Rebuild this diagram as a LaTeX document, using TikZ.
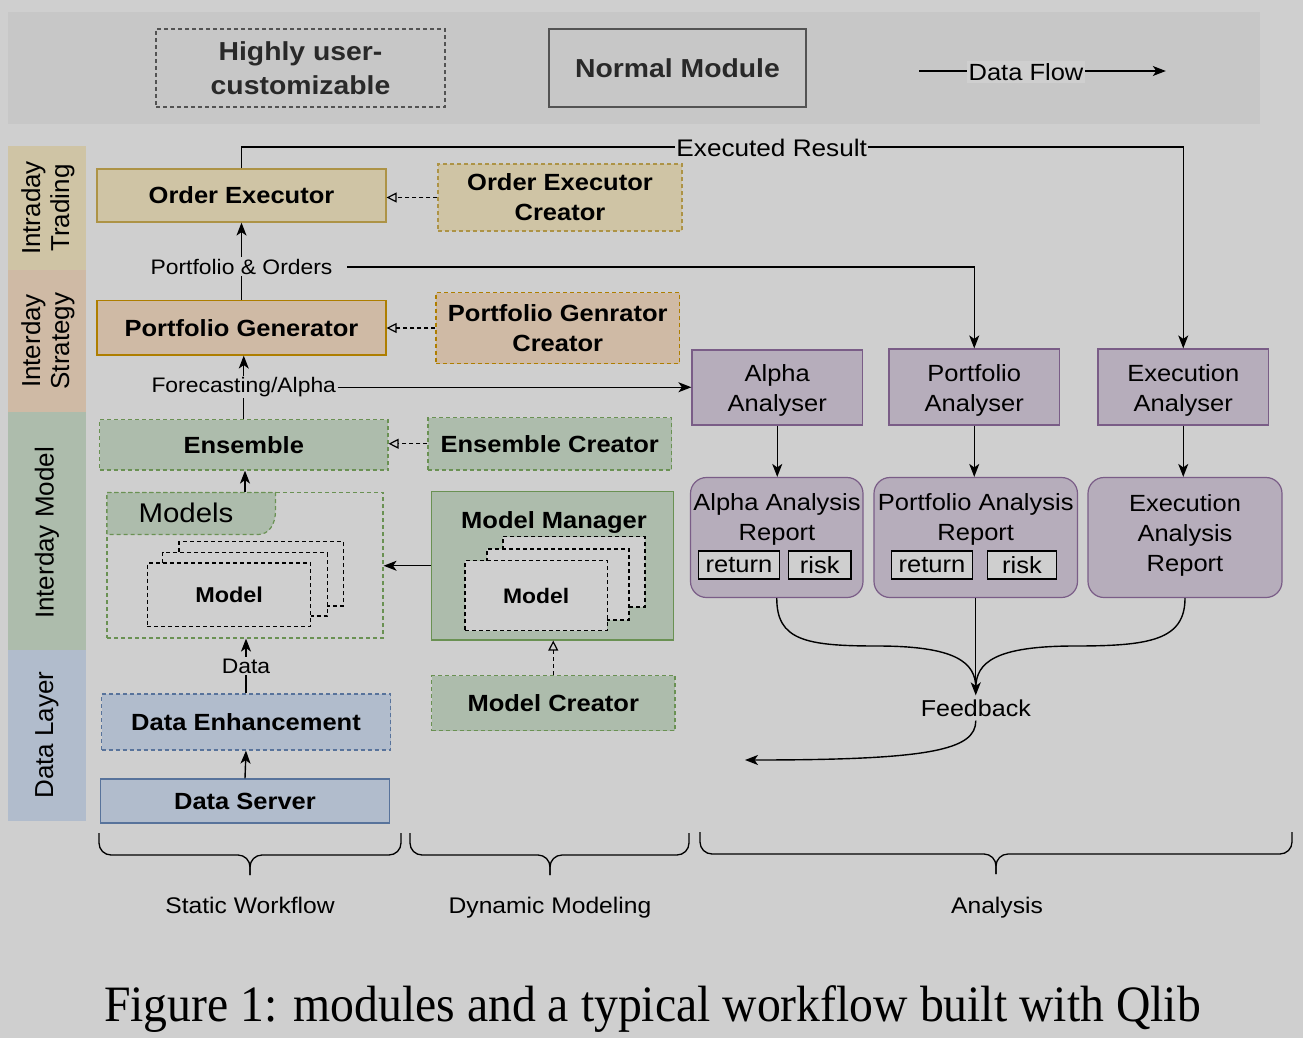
\documentclass[tikz,border=0pt]{standalone}
\usepackage{fontspec}
\setmainfont{Liberation Sans}[FakeStretch=1.09]
\newfontfamily\rotfont{Liberation Sans}
\newfontfamily\capfont{Liberation Serif}[FakeStretch=0.935]
\usetikzlibrary{arrows.meta}

\definecolor{bg}{HTML}{CFCFCF}
\definecolor{legbg}{HTML}{C7C7C7}
\definecolor{legline}{HTML}{535353}
\definecolor{legtext}{HTML}{292929}
\definecolor{tanF}{HTML}{CFC4A5}
\definecolor{tanD}{HTML}{AD9346}
\definecolor{orgF}{HTML}{CFBAA5}
\definecolor{orgD}{HTML}{AE7E00}
\definecolor{grnF}{HTML}{ADBCAC}
\definecolor{grnD}{HTML}{6A9153}
\definecolor{bluF}{HTML}{B1BCCC}
\definecolor{bluD}{HTML}{58739B}
\definecolor{purF}{HTML}{B6ADBB}
\definecolor{purD}{HTML}{7A5D87}

\newcommand\fbold{\fontsize{23.4}{30}\selectfont\bfseries}
\newcommand\fnorm{\fontsize{23.4}{30}\selectfont}
\newcommand\fsmall{\fontsize{21}{25}\selectfont}
\newcommand\flegend{\fontsize{26}{34}\selectfont\bfseries}
\newcommand\fband{\rotfont\fontsize{26}{29}\selectfont}

\begin{document}
\begin{tikzpicture}[x=1pt,y=-1pt,
  sz/.style 2 args={minimum width=#1pt, minimum height=#2pt},
  base/.style={draw, line width=1.2pt, inner sep=0pt, align=center},
  dsh/.style={dash pattern=on 4pt off 3pt},
  tanbox/.style={base, fill=tanF, draw=tanD},
  orgbox/.style={base, fill=orgF, draw=orgD},
  grnbox/.style={base, fill=grnF, draw=grnD},
  blubox/.style={base, fill=bluF, draw=bluD},
  purbox/.style={base, fill=purF, draw=purD},
  smallbox/.style={base, fill=bg, draw=black},
  stackbox/.style={base, fill=bg, draw=black, dsh},
  arr/.style={line width=1.4pt, -{Stealth[length=13pt,width=10pt,inset=3.5pt]}},
  openarr/.style={line width=1.2pt, dsh, -{Triangle[open,length=10pt,width=10pt]}},
  lbl/.style={fill=bg, inner sep=2pt},
  bracestyle/.style={line width=1.3pt, rounded corners=12pt},
]
\useasboundingbox (0,0) rectangle (1303,1038);
\fill[bg] (0,0) rectangle (1303,1038);

% legend
\fill[legbg] (8,12) rectangle (1260,124);
\node[base, draw=legline, dsh, sz={289}{78}, font=\flegend, text=legtext] (lg1) at (300.5,68) {Highly user-\\customizable};
\node[base, draw=legline, sz={257}{78}, font=\flegend, text=legtext] (lg2) at (677.5,68) {Normal Module};
\coordinate (df1) at (919,71);
\coordinate (df2) at (1165.8,71);
\draw[arr] (df1) -- node[lbl, font=\fnorm, pos=0.4335, yshift=-1pt] (dfl) {Data Flow} (df2);

% left bands
\fill[tanF] (8,146) rectangle (86,270);
\fill[orgF] (8,270) rectangle (86,412);
\fill[grnF] (8,412) rectangle (86,650);
\fill[bluF] (8,650) rectangle (86,821);
\node[rotate=90, align=center, font=\fband] (b1) at (48,208) {Intraday\\Trading};
\node[rotate=90, align=center, font=\fband] (b2) at (48,341) {Interday\\Strategy};
\node[rotate=90, align=center, font=\fband] (b3) at (47,533) {Interday Model};
\node[rotate=90, align=center, font=\fband] (b4) at (47,735) {Data Layer};

% main modules
\node[tanbox, sz={289}{53}, font=\fbold] (oe) at (241.5,195.5) {Order Executor};
\node[tanbox, dsh, sz={244}{67}, font=\fbold] (oec) at (560,197.5) {Order Executor\\Creator};
\node[orgbox, sz={289}{54.5}, font=\fbold] (pg) at (241.5,327.75) {Portfolio Generator};
\node[orgbox, dsh, sz={243.5}{71}, font=\fbold] (pgc) at (557.75,328) {Portfolio Genrator\\Creator};
\node[grnbox, dsh, sz={288.5}{50.5}, font=\fbold] (ens) at (243.75,444.75) {Ensemble};
\node[grnbox, dsh, sz={243.5}{52.5}, font=\fbold] (ensc) at (549.75,443.75) {Ensemble Creator};

% models container
\node[base, draw=grnD, dsh, sz={276}{145.5}] (mod) at (245,565.25) {};
\path[draw=grnD, line width=1.2pt, dsh, fill=grnF] (107,492.5) -- (275.5,492.5) -- (275.5,510)
  .. controls (275.5,526) and (268,534.5) .. (258,534.5) -- (107,534.5) -- cycle;
\node[font=\fontsize{27}{30}\selectfont] (modt) at (186,513) {Models};
\node[stackbox, sz={164.3}{64.3}] (s1b) at (261.15,573.85) {};
\node[stackbox, sz={164.6}{63.3}] (s1m) at (245,584.35) {};
\node[stackbox, sz={163.4}{63.7}, font=\fontsize{21.5}{25}\selectfont\bfseries] (s1f) at (229.1,594.85) {Model};

% model manager
\node[grnbox, sz={242}{148.5}] (mm) at (552.5,565.75) {};
\node[font=\fbold] (mmt) at (554,522) {Model Manager};
\node[stackbox, sz={142}{70.3}] (s2b) at (574,571.85) {};
\node[stackbox, sz={142}{71}] (s2m) at (558,584.5) {};
\node[stackbox, sz={142.4}{70}, font=\fontsize{21}{25}\selectfont\bfseries] (s2f) at (536.2,595.7) {Model};

\node[grnbox, dsh, sz={243.5}{55}, font=\fbold] (mc) at (553.25,703) {Model Creator};
\node[blubox, dsh, sz={289}{56}, font=\fbold] (de) at (246,722) {Data Enhancement};
\node[blubox, sz={289}{44}, font=\fbold] (ds) at (245,801) {Data Server};

% analysers
\node[purbox, sz={170.5}{75}] (aa) at (777.25,387.5) {};
\node[purbox, sz={170.5}{76}] (pa) at (974.25,387) {};
\node[purbox, sz={170.5}{76}] (ea) at (1183.25,387) {};
\node[font=\fnorm, align=center] (aat) at (777.25,390) {Alpha\\Analyser};
\node[font=\fnorm, align=center] (pat) at (974.25,390) {Portfolio\\Analyser};
\node[font=\fnorm, align=center] (eat) at (1183.25,390) {Execution\\Analyser};

% reports
\node[purbox, rounded corners=16pt, sz={172.5}{120}] (aar) at (776.75,537.5) {};
\node[purbox, rounded corners=16pt, sz={203.5}{120}] (par) at (975.75,537.5) {};
\node[purbox, rounded corners=16pt, sz={194}{120}] (ear) at (1185,537.5) {};
\node[align=center, font=\fnorm] (eart) at (1185,535) {Execution\\Analysis\\Report};
\node[align=center, font=\fnorm] (aart) at (777,519) {Alpha Analysis\\Report};
\node[align=center, font=\fnorm] (part) at (975.75,519) {Portfolio Analysis\\Report};
\node[smallbox, sz={81}{28}, font=\fnorm] (ar1) at (739,565) {return};
\node[smallbox, sz={62.5}{28}, font=\fnorm] (ar2) at (819.75,565) {risk};
\node[smallbox, sz={81}{28}, font=\fnorm] (pr1) at (932,565) {return};
\node[smallbox, sz={69}{28}, font=\fnorm] (pr2) at (1022,565) {risk};

% connectors left column
\draw[arr] (ds.north) -- (de.south);
\draw[arr] (de.north) -- node[lbl, font=\fsmall] (datal) {Data} (de.north |- mod.south);
\draw[arr] (mod.north) -- (mod.north |- ens.south);
\draw[arr] (ens.north) -- node[lbl, font=\fsmall, inner sep=1pt] (fcl) {Forecasting/Alpha} (ens.north |- pg.south);
\draw[arr] (fcl.east) -- (fcl.east -| aa.west);
\draw[arr] (pg.north) -- node[lbl, font=\fsmall, pos=0.43] (pol) {Portfolio \& Orders} (oe.south);
\coordinate (pstart) at (347,267);
\draw[arr] (pstart) -| (pa.north);
\coordinate (er1) at (240.7,147);
\draw[arr] (oe.north) -- (oe.north |- er1) -- node[lbl, font=\fontsize{24}{28}\selectfont, inner sep=1pt, pos=0.563, yshift=-1pt] (erl) {Executed Result} (ea.north |- er1) -- (ea.north);

% creator links
\draw[openarr] (oec.west) -- (oec.west -| oe.east);
\draw[openarr] (pgc.west) -- (pgc.west -| pg.east);
\draw[openarr] (ensc.west) -- (ensc.west -| ens.east);
\draw[openarr] (mc.north) -- (mc.north |- mm.south);
\draw[arr] (mm.west) -- (mm.west -| mod.east);

% analysis flow
\draw[arr] (aa.south) -- (aa.south |- aar.north);
\draw[arr] (pa.south) -- (pa.south |- par.north);
\draw[arr] (ea.south) -- (ea.south |- ear.north);
\node[font=\fontsize{23}{27}\selectfont, inner sep=4pt] (fb) at (975.8,708) {Feedback};
\draw[line width=1.4pt] (aar.south) .. controls (776.75,640) and (805,646) .. (877,646)
  .. controls (955,646) and (975.8,662) .. (975.8,688);
\draw[line width=1.4pt] (ear.south) .. controls (1185,640) and (1150,646) .. (1075,646)
  .. controls (996,646) and (975.8,662) .. (975.8,688);
\draw[arr] (par.south) -- (par.south |- fb.north);
\coordinate (fbend) at (745,760);
\draw[arr] (fb.south) .. controls (975.8,750) and (930,760) .. (fbend);

% braces
\draw[bracestyle] (99,833) -- (99,855) -- (250,855) -- (250,875);
\draw[bracestyle] (401,833) -- (401,855) -- (250,855) -- (250,875);
\draw[bracestyle] (410,833) -- (410,855) -- (550,855) -- (550,875);
\draw[bracestyle] (689,833) -- (689,855) -- (550,855) -- (550,875);
\draw[bracestyle] (700,832) -- (700,854) -- (996,854) -- (996,874);
\draw[bracestyle] (1292,832) -- (1292,854) -- (996,854) -- (996,874);
\node[font=\fontsize{22.6}{26}\selectfont, anchor=base] (bl1) at (250,913) {Static Workflow};
\node[font=\fontsize{22.6}{26}\selectfont, anchor=base] (bl2) at (550,913) {Dynamic Modeling};
\node[font=\fontsize{22.6}{26}\selectfont, anchor=base] (bl3) at (997,913) {Analysis};

% caption
\node[font=\capfont\fontsize{51}{56}\selectfont, anchor=base] (cap) at (652.5,1021.7) {Figure 1: modules and a typical workflow built with Qlib};
\end{tikzpicture}
\end{document}
